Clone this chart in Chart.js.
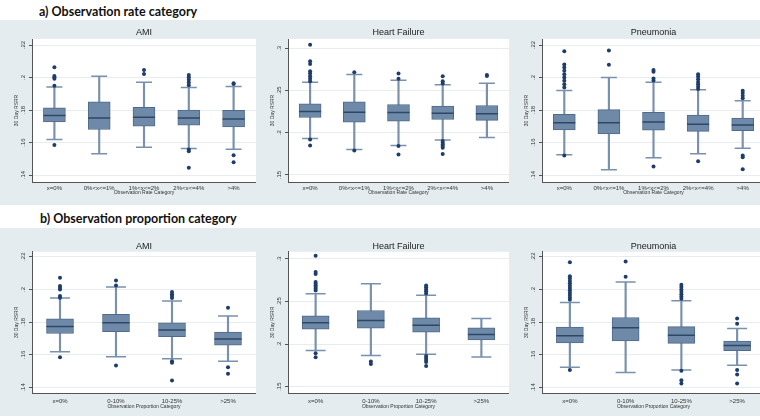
<!DOCTYPE html>
<html><head><meta charset="utf-8">
<script src="https://cdn.jsdelivr.net/npm/chart.js@4.4.1/dist/chart.umd.min.js"></script>
<style>
html,body{margin:0;padding:0;width:760px;height:420px;overflow:hidden;background:#fff;position:relative;}
.bg{position:absolute;left:0;width:760px;background:#e4ecef;}
.hd{position:absolute;font-family:Lato,"Open Sans",sans-serif;font-weight:700;font-size:12.5px;line-height:16px;color:#111;white-space:nowrap;}
canvas{position:absolute;}
</style></head><body>
<div class="bg" style="top:20px;height:185px"></div>
<div class="bg" style="top:228px;height:188px"></div>
<div class="hd" style="left:39px;top:4px">a) Observation rate category</div>
<div class="hd" style="left:40px;top:211px">b) Observation proportion category</div>
<canvas id="a1" width="256" height="183" style="left:0;top:20px"></canvas>
<canvas id="a2" width="253" height="183" style="left:256px;top:20px"></canvas>
<canvas id="a3" width="255" height="183" style="left:510px;top:20px"></canvas>
<canvas id="b1" width="256" height="187" style="left:0;top:228px"></canvas>
<canvas id="b2" width="253" height="187" style="left:256px;top:228px"></canvas>
<canvas id="b3" width="255" height="187" style="left:510px;top:228px"></canvas>
<script>
// ---- categories & tick labels ----
const rateCats = ['x=0%', '0%<x<=1%', '1%<x<=2%', '2%<x<=4%', '>4%'];
const propCats = ['x=0%', '0-10%', '10-25%', '>25%'];
const ticksAmiPn = [0.14, 0.16, 0.18, 0.2, 0.22];
const ticksHF = [0.15, 0.2, 0.25, 0.3];

// ---- a) AMI by observation rate ----
const amiRateLo  = [0.1618, 0.1531, 0.1571, 0.1563, 0.1559];
const amiRateQ1  = [0.1727, 0.1680, 0.1700, 0.1706, 0.1696];
const amiRateMed = [0.1767, 0.1751, 0.1755, 0.1751, 0.1745];
const amiRateQ3  = [0.1814, 0.1851, 0.1816, 0.1800, 0.1798];
const amiRateHi  = [0.1941, 0.2008, 0.1971, 0.1939, 0.1945];
const amiRateOut = [[0.1584, 0.1950, 0.1992, 0.2002, 0.2010, 0.2063], [], [0.2022, 0.2047],
  [0.1445, 0.1547, 0.1557, 0.1953, 0.1969, 0.1986, 0.2002, 0.2016], [0.1478, 0.1522, 0.1960, 0.1965]];

// ---- a) Heart Failure by observation rate ----
const hfRateLo  = [0.1933, 0.1803, 0.1850, 0.1913, 0.1945];
const hfRateQ1  = [0.2181, 0.2126, 0.2138, 0.2157, 0.2146];
const hfRateMed = [0.2252, 0.2244, 0.2240, 0.2232, 0.2224];
const hfRateQ3  = [0.2343, 0.2366, 0.2335, 0.2315, 0.2323];
const hfRateHi  = [0.2598, 0.2689, 0.2622, 0.2567, 0.2587];
const hfRateOut = [[0.1850, 0.1921, 0.2610, 0.2638, 0.2669, 0.2701, 0.2728, 0.2815, 0.2846, 0.3043],
  [0.1791, 0.2717], [0.1744, 0.1843, 0.2638, 0.2701],
  [0.1748, 0.1823, 0.1843, 0.1862, 0.1882, 0.1902, 0.2583, 0.2610, 0.2669], [0.2673, 0.2685]];

// ---- a) Pneumonia by observation rate ----
const pnRateLo  = [0.1524, 0.1433, 0.1506, 0.1531, 0.1565];
const pnRateQ1  = [0.1678, 0.1653, 0.1676, 0.1669, 0.1673];
const pnRateMed = [0.1722, 0.1722, 0.1727, 0.1712, 0.1708];
const pnRateQ3  = [0.1773, 0.1802, 0.1786, 0.1769, 0.1751];
const pnRateHi  = [0.1920, 0.2000, 0.1971, 0.1924, 0.1857];
const pnRateOut = [[0.1520, 0.1939, 0.1959, 0.1980, 0.2000, 0.2020, 0.2041, 0.2061, 0.2080, 0.2161],
  [0.2078, 0.2167], [0.1453, 0.1982, 0.1994, 0.2035, 0.2047],
  [0.1484, 0.1929, 0.1943, 0.1959, 0.1973, 0.1990, 0.2006, 0.2020], [0.1435, 0.1510, 0.1520, 0.1873, 0.1888, 0.1904, 0.1918]];

// ---- b) AMI by observation proportion ----
const amiPropLo  = [0.1618, 0.1588, 0.1576, 0.1561];
const amiPropQ1  = [0.1730, 0.1741, 0.1710, 0.1659];
const amiPropMed = [0.1773, 0.1796, 0.1751, 0.1696];
const amiPropQ3  = [0.1820, 0.1847, 0.1796, 0.1739];
const amiPropHi  = [0.1947, 0.2014, 0.1929, 0.1837];
const amiPropOut = [[0.1585, 0.1949, 0.1959, 0.2000, 0.2010, 0.2020, 0.2071], [0.1535, 0.2024, 0.2055],
  [0.1443, 0.1551, 0.1561, 0.1947, 0.1959, 0.1971, 0.1984], [0.1484, 0.1524, 0.1888]];

// ---- b) Heart Failure by observation proportion ----
const hfPropLo  = [0.1924, 0.1865, 0.1880, 0.1849];
const hfPropQ1  = [0.2175, 0.2186, 0.2139, 0.2049];
const hfPropMed = [0.2249, 0.2276, 0.2222, 0.2112];
const hfPropQ3  = [0.2331, 0.2394, 0.2308, 0.2190];
const hfPropHi  = [0.2590, 0.2708, 0.2571, 0.2300];
const hfPropOut = [[0.1845, 0.1892, 0.2629, 0.2649, 0.2669, 0.2688, 0.2708, 0.2727, 0.2822, 0.2845, 0.3037],
  [0.1767, 0.1794], [0.1743, 0.1790, 0.1814, 0.1837, 0.1861, 0.2594, 0.2618, 0.2641, 0.2665, 0.2688], []];

// ---- b) Pneumonia by observation proportion ----
const pnPropLo  = [0.1524, 0.1491, 0.1506, 0.1536];
const pnPropQ1  = [0.1672, 0.1684, 0.1670, 0.1625];
const pnPropMed = [0.1717, 0.1766, 0.1719, 0.1657];
const pnPropQ3  = [0.1770, 0.1828, 0.1772, 0.1684];
const pnPropHi  = [0.1920, 0.2045, 0.1930, 0.1760];
const pnPropOut = [[0.1506, 0.1936, 0.1951, 0.1965, 0.1980, 0.1994, 0.2008, 0.2023, 0.2037, 0.2051, 0.2066, 0.2080, 0.2166],
  [0.2078, 0.2170], [0.1424, 0.1444, 0.1502, 0.1943, 0.1957, 0.1971, 0.1986, 0.2000, 0.2014, 0.2029],
  [0.1424, 0.1479, 0.1506, 0.1789, 0.1822]];

// ---- styles ----
const FONT = '"Liberation Sans", Arial, sans-serif';
const BOX = '#6f89a8', BOXLINE = '#4f6a8a', MED = '#2c4866', WH = '#7a91ad', OUT = '#1f3d6b';
const AXIS = '#555', GRID = '#e6ecef', TXT = '#333';

const plotBg = {
  id: 'plotBg',
  beforeDraw(chart) {
    const {ctx, chartArea: a} = chart;
    ctx.save(); ctx.fillStyle = '#ffffff';
    ctx.fillRect(a.left, a.top, a.right - a.left, a.bottom - a.top);
    ctx.restore();
  }
};

const rowA = {titlePad: {top: 7.6, bottom: 0.6}, xH: 21, xTickPad: 3, xTitlePad: 7.3, boxW: 22, capR: 8};
const rowB = {titlePad: {top: 13, bottom: 0}, xH: 22, xTickPad: 4.4, xTitlePad: 5.7, boxW: 27, capR: 10};

function boxChart(id, title, cats, xTitle, yTicks, yMin, yMax, lo, q1, med, q3, hi, out, g) {
  const outPts = [];
  out.forEach((vals, i) => vals.forEach(v => outPts.push({x: cats[i], y: v})));
  return new Chart(document.getElementById(id), {
    type: 'bar',
    data: {
      labels: cats,
      datasets: [
        {type: 'line', data: outPts, showLine: false, pointRadius: 2, pointStyle: 'circle',
         pointBackgroundColor: OUT, pointBorderColor: OUT, pointBorderWidth: 0, borderColor: OUT, order: 0},
        {type: 'line', data: med, showLine: false, pointStyle: 'line', pointRadius: g.boxW / 2,
         borderColor: MED, pointBorderColor: MED, pointBorderWidth: 1.5, order: 1},
        {type: 'bar', data: cats.map((c, i) => [q1[i], q3[i]]), backgroundColor: BOX, borderColor: BOXLINE,
         borderWidth: 1, borderSkipped: false, barThickness: g.boxW, grouped: false, order: 2},
        {type: 'line', data: lo, showLine: false, pointStyle: 'line', pointRadius: g.capR,
         borderColor: WH, pointBorderColor: WH, pointBorderWidth: 1.5, order: 3},
        {type: 'line', data: hi, showLine: false, pointStyle: 'line', pointRadius: g.capR,
         borderColor: WH, pointBorderColor: WH, pointBorderWidth: 1.5, order: 3},
        {type: 'bar', data: cats.map((c, i) => [lo[i], hi[i]]), backgroundColor: WH, borderWidth: 0,
         barThickness: 1.5, grouped: false, order: 4}
      ]
    },
    options: {
      responsive: false, animation: false, events: [],
      layout: {padding: 0, autoPadding: false},
      plugins: {
        legend: {display: false}, tooltip: {enabled: false},
        title: {display: true, text: title, fullSize: false, color: '#222',
                font: {family: FONT, size: 9, weight: 'normal'}, padding: g.titlePad}
      },
      scales: {
        x: {
          type: 'category', offset: true,
          grid: {display: false, drawTicks: false},
          border: {display: true, color: AXIS, width: 1},
          ticks: {font: {family: FONT, size: 6}, color: TXT, padding: g.xTickPad, maxRotation: 0, minRotation: 0, autoSkip: false},
          title: {display: true, text: xTitle, color: TXT, font: {family: FONT, size: 5}, padding: {top: 0, bottom: g.xTitlePad}},
          afterFit: s => { s.height = g.xH; }
        },
        y: {
          type: 'linear', min: yMin, max: yMax,
          afterBuildTicks: s => { s.ticks = yTicks.map(v => ({value: v})); },
          grid: {color: GRID, lineWidth: 1, tickColor: AXIS, tickLength: 3, drawTicks: true},
          border: {display: true, color: AXIS, width: 1},
          ticks: {font: {family: FONT, size: 6}, color: TXT, padding: 1, minRotation: 90, maxRotation: 90,
                  crossAlign: 'center', callback: v => String(v).replace(/^0\./, '.')},
          title: {display: true, text: '30 Day RSRR', color: TXT, font: {family: FONT, size: 5}, padding: {top: 14, bottom: 0}},
          afterFit: s => { s.width = 32; }
        }
      }
    },
    plugins: [plotBg]
  });
}

const rateTitle = 'Observation Rate Category';
const propTitle = 'Observation Proportion Category';
boxChart('a1', 'AMI', rateCats, rateTitle, ticksAmiPn, 0.1357, 0.2237, amiRateLo, amiRateQ1, amiRateMed, amiRateQ3, amiRateHi, amiRateOut, rowA);
boxChart('a2', 'Heart Failure', rateCats, rateTitle, ticksHF, 0.1417, 0.311, hfRateLo, hfRateQ1, hfRateMed, hfRateQ3, hfRateHi, hfRateOut, rowA);
boxChart('a3', 'Pneumonia', rateCats, rateTitle, ticksAmiPn, 0.1357, 0.2237, pnRateLo, pnRateQ1, pnRateMed, pnRateQ3, pnRateHi, pnRateOut, rowA);
boxChart('b1', 'AMI', propCats, propTitle, ticksAmiPn, 0.1366, 0.2230, amiPropLo, amiPropQ1, amiPropMed, amiPropQ3, amiPropHi, amiPropOut, rowB);
boxChart('b2', 'Heart Failure', propCats, propTitle, ticksHF, 0.1426, 0.3082, hfPropLo, hfPropQ1, hfPropMed, hfPropQ3, hfPropHi, hfPropOut, rowB);
boxChart('b3', 'Pneumonia', propCats, propTitle, ticksAmiPn, 0.1366, 0.2230, pnPropLo, pnPropQ1, pnPropMed, pnPropQ3, pnPropHi, pnPropOut, rowB);
</script>
</body></html>
